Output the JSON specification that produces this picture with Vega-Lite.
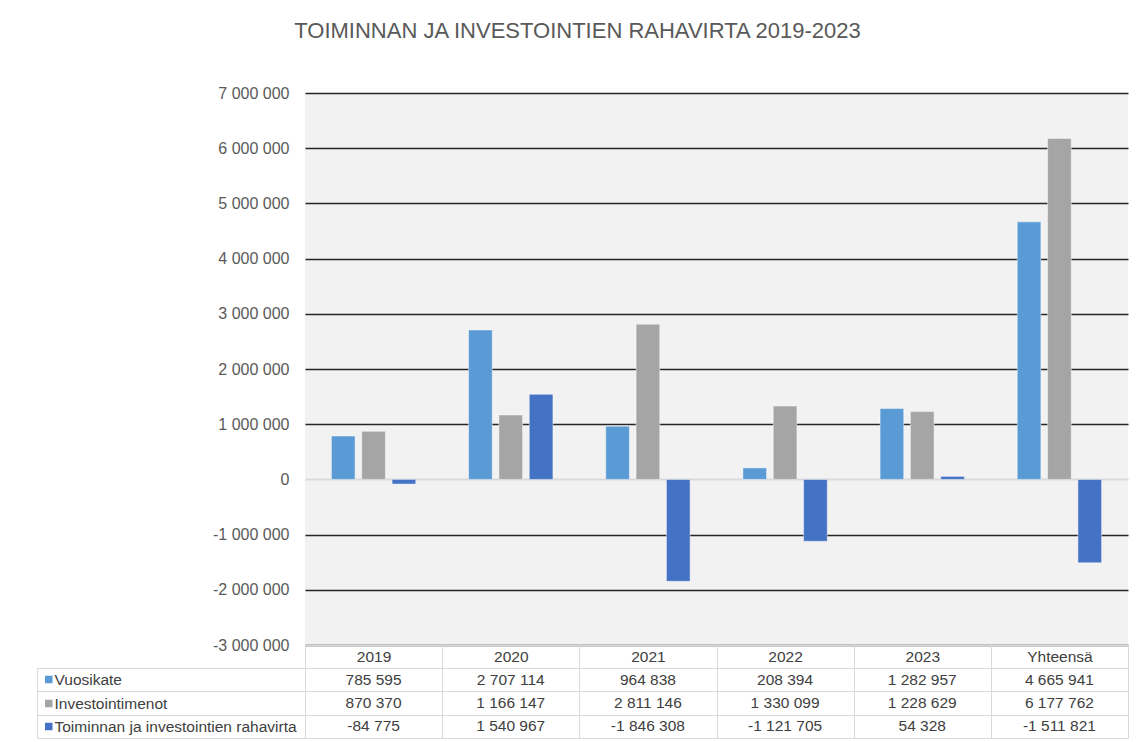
{
  "$schema": "https://vega.github.io/schema/vega-lite/v6.json",
  "padding": {"left": 36, "top": 20, "right": 10, "bottom": 4},
  "bounds": "flush",
  "spacing": 23,
  "background": "white",
  "title": {
    "text": "TOIMINNAN JA INVESTOINTIEN RAHAVIRTA 2019-2023",
    "font": "Liberation Sans",
    "fontSize": 22,
    "fontWeight": "normal",
    "color": "#595959",
    "anchor": "middle",
    "frame": "bounds",
    "dx": -5,
    "offset": 42
  },
  "datasets": {
    "d": [
      {"cat": "2019", "series": "Vuosikate", "value": 785595},
      {"cat": "2019", "series": "Investointimenot", "value": 870370},
      {"cat": "2019", "series": "Toiminnan ja investointien rahavirta", "value": -84775},
      {"cat": "2020", "series": "Vuosikate", "value": 2707114},
      {"cat": "2020", "series": "Investointimenot", "value": 1166147},
      {"cat": "2020", "series": "Toiminnan ja investointien rahavirta", "value": 1540967},
      {"cat": "2021", "series": "Vuosikate", "value": 964838},
      {"cat": "2021", "series": "Investointimenot", "value": 2811146},
      {"cat": "2021", "series": "Toiminnan ja investointien rahavirta", "value": -1846308},
      {"cat": "2022", "series": "Vuosikate", "value": 208394},
      {"cat": "2022", "series": "Investointimenot", "value": 1330099},
      {"cat": "2022", "series": "Toiminnan ja investointien rahavirta", "value": -1121705},
      {"cat": "2023", "series": "Vuosikate", "value": 1282957},
      {"cat": "2023", "series": "Investointimenot", "value": 1228629},
      {"cat": "2023", "series": "Toiminnan ja investointien rahavirta", "value": 54328},
      {"cat": "Yhteensä", "series": "Vuosikate", "value": 4665941},
      {"cat": "Yhteensä", "series": "Investointimenot", "value": 6177762},
      {"cat": "Yhteensä", "series": "Toiminnan ja investointien rahavirta", "value": -1511821}
    ]
  },
  "vconcat": [
    {
      "width": 823,
      "height": 552,
      "view": {"fill": "#f2f2f2", "stroke": null},
      "data": {"name": "d"},
      "mark": {"type": "bar", "stroke": "#ffffff", "strokeOpacity": 0.45, "strokeWidth": 1},
      "encoding": {
        "x": {
          "field": "cat", "type": "nominal", "sort": null,
          "scale": {"domain": ["2019", "2020", "2021", "2022", "2023", "Yhteensä"], "paddingInner": 0, "paddingOuter": 0},
          "axis": {"title": null, "labels": false, "ticks": false, "grid": false, "domain": true, "domainColor": "#d9d9d9", "domainWidth": 1}
        },
        "xOffset": {
          "field": "series", "type": "nominal", "sort": null,
          "scale": {"domain": ["Vuosikate", "Investointimenot", "Toiminnan ja investointien rahavirta"], "paddingInner": 0.22, "paddingOuter": 0.87}
        },
        "y": {
          "field": "value", "type": "quantitative",
          "scale": {"domain": [-3000000, 7000000], "nice": false, "zero": false},
          "axis": {
            "title": null,
            "values": [-3000000, -2000000, -1000000, 0, 1000000, 2000000, 3000000, 4000000, 5000000, 6000000, 7000000],
            "format": ",d",
            "labelFont": "Liberation Sans",
            "labelFontSize": 16,
            "labelColor": "#595959",
            "labelPadding": 16,
            "ticks": false,
            "domain": false,
            "grid": true,
            "gridColor": {"condition": {"test": "datum.value === 0", "value": "#d9d9d9"}, "value": "#262626"},
            "gridWidth": {"condition": {"test": "datum.value === 0", "value": 2}, "value": 1.3}
          }
        },
        "color": {
          "field": "series", "type": "nominal",
          "scale": {"domain": ["Vuosikate", "Investointimenot", "Toiminnan ja investointien rahavirta"], "range": ["#5b9bd5", "#a5a5a5", "#4472c4"]},
          "legend": null
        }
      }
    },
    {
      "width": 823,
      "height": 70,
      "view": {"fill": "#ffffff", "stroke": "#d9d9d9"},
      "data": {"name": "d"},
      "resolve": {"axis": {"y": "independent", "x": "independent"}},
      "layer": [
        {
          "mark": {"type": "text", "font": "Liberation Sans", "fontSize": 15.5, "color": "#404040"},
          "encoding": {
            "x": {
              "field": "cat", "type": "nominal", "sort": null,
              "scale": {"domain": ["2019", "2020", "2021", "2022", "2023", "Yhteensä"], "paddingInner": 0, "paddingOuter": 0},
              "axis": {
                "orient": "top", "title": null, "labelAngle": 0,
                "tickBand": "extent", "tickSize": 23, "tickColor": "#d9d9d9",
                "labelPadding": -11.5, "labelBaseline": "middle",
                "labelFont": "Liberation Sans", "labelFontSize": 15.5, "labelColor": "#404040",
                "domain": false, "grid": true, "gridColor": "#d9d9d9"
              }
            },
            "y": {
              "field": "series", "type": "nominal", "sort": null,
              "scale": {"domain": ["Vuosikate", "Investointimenot", "Toiminnan ja investointien rahavirta"], "paddingInner": 0, "paddingOuter": 0},
              "axis": {
                "orient": "left", "title": null,
                "tickBand": "extent", "tickSize": 268, "tickColor": "#d9d9d9",
                "labelAlign": "left", "labelPadding": -17, "labelBaseline": "middle",
                "labelFont": "Liberation Sans", "labelFontSize": 15.5, "labelColor": "#404040", "labelLimit": 300,
                "domain": false, "grid": true, "gridColor": "#d9d9d9"
              }
            },
            "text": {"field": "value", "type": "quantitative", "format": ",d"}
          }
        },
        {
          "mark": {"type": "point", "opacity": 0},
          "encoding": {
            "x": {"field": "cat", "type": "nominal", "sort": null, "axis": null},
            "y": {
              "field": "series", "type": "nominal", "sort": null,
              "axis": {
                "orient": "left", "offset": 253, "title": null,
                "labels": false, "domain": false, "grid": false,
                "ticks": true, "tickSize": 7.5, "tickWidth": 7.5,
                "tickColor": {"condition": [
                  {"test": "datum.value === 'Vuosikate'", "value": "#5b9bd5"},
                  {"test": "datum.value === 'Investointimenot'", "value": "#a5a5a5"}
                ], "value": "#4472c4"}
              }
            }
          }
        },
        {
          "mark": {"type": "point", "opacity": 0},
          "encoding": {
            "x": {"field": "cat", "type": "nominal", "sort": null, "axis": null},
            "y": {
              "field": "series", "type": "nominal", "sort": null,
              "axis": {
                "orient": "left", "offset": 268, "title": null,
                "labels": false, "ticks": false, "grid": false,
                "domain": true, "domainColor": "#d9d9d9", "domainWidth": 1
              }
            }
          }
        }
      ]
    }
  ],
  "config": {
    "locale": {"number": {"decimal": ",", "thousands": " ", "grouping": [3], "currency": ["", " €"], "minus": "-"}},
    "font": "Liberation Sans"
  }
}
